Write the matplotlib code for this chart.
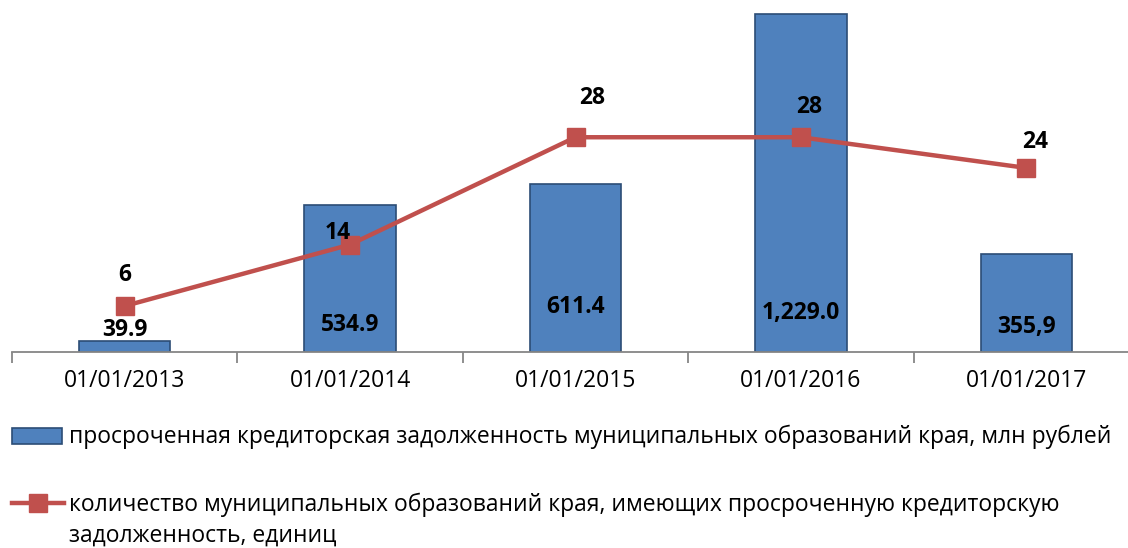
import matplotlib
matplotlib.use("Agg")
import matplotlib.pyplot as plt
from matplotlib.patches import Rectangle
from matplotlib.lines import Line2D
import numpy as np

categories = ["01/01/2013", "01/01/2014", "01/01/2015", "01/01/2016", "01/01/2017"]
debt = [39.9, 534.9, 611.4, 1229.0, 355.9]
debt_labels = ["39.9", "534.9", "611.4", "1,229.0", "355,9"]
count = [6, 14, 28, 28, 24]
count_labels = ["6", "14", "28", "28", "24"]
legend_bar = "просроченная кредиторская задолженность муниципальных образований края, млн рублей"
legend_line = "количество муниципальных образований края, имеющих просроченную кредиторскую\nзадолженность, единиц"

plt.rcParams['font.family'] = ['Open Sans', 'DejaVu Sans']

W, H = 1128, 548
fig = plt.figure(figsize=(W / 100, H / 100), dpi=100)
# axes: x from 12 px, category width ~225 px; y baseline at 352 px
ax = fig.add_axes([12 / W, (H - 352) / H, 1127 / W, 352 / H])
ax2 = ax.twinx()

x = np.arange(len(categories))
ax.bar(x, debt, width=0.405, color="#4F81BD", edgecolor="#2C4D75", linewidth=1.2, zorder=2)
ax.set_xlim(-0.5, len(categories) - 0.5)
ax.set_ylim(0, 352 * 3.64)
ax2.set_ylim(0, 352 / 7.67)

ax2.plot(x, count, color="#C0504D", linewidth=3.2, marker="s", markersize=13,
         markerfacecolor="#C0504D", markeredgecolor="#C0504D", zorder=3)

for a in (ax, ax2):
    for s in ("top", "right", "left"):
        a.spines[s].set_visible(False)
    a.set_yticks([])
ax2.spines["bottom"].set_visible(False)
ax.spines["bottom"].set_color("#868686")
ax.spines["bottom"].set_linewidth(1.3)

ax.set_xticks(x)
ax.set_xticklabels(categories, fontsize=16.5)
ax.tick_params(axis="x", length=0, pad=12)
ax.set_xticks(np.arange(len(categories) + 1) - 0.5, minor=True)
ax.tick_params(axis="x", which="minor", length=8, width=1.3, color="#868686")

# bar labels: pixel offset above baseline
bar_off = [22, 27, 45, 39, 25]
for xi, lab, off in zip(x, debt_labels, bar_off):
    ax.annotate(lab, (xi, 0), xytext=(0, off), textcoords="offset pixels",
                ha="center", va="center", fontsize=16.5, fontweight="bold", color="black", zorder=5)

line_off = [(0, 31), (-12, 12), (17, 39), (8, 30), (9, 26)]
for xi, v, lab, (dx, dy) in zip(x, count, count_labels, line_off):
    ax2.annotate(lab, (xi, v), xytext=(dx, dy), textcoords="offset pixels",
                 ha="center", va="center", fontsize=16.5, fontweight="bold", color="black", zorder=5)

# legend drawn manually in figure pixel coordinates
def fx(px):
    return px / W

def fy(py):
    return (H - py) / H

fig.patches.append(Rectangle((fx(12), fy(444)), fx(62) - fx(12), fy(428) - fy(444),
                             transform=fig.transFigure, facecolor="#4F81BD",
                             edgecolor="#2C4D75", linewidth=1.2))
fig.text(fx(69), fy(437), legend_bar, fontsize=16.5, va="center", ha="left")
fig.lines.append(Line2D([fx(12), fx(64)], [fy(503), fy(503)], transform=fig.transFigure,
                        color="#C0504D", linewidth=3.2))
fig.lines.append(Line2D([fx(38)], [fy(503)], transform=fig.transFigure, marker="s",
                        markersize=13, color="#C0504D", linestyle="none"))
fig.text(fx(69), fy(520), legend_line, fontsize=16.5, va="center", ha="left", linespacing=1.35)

fig.savefig("out.png", dpi=100)
